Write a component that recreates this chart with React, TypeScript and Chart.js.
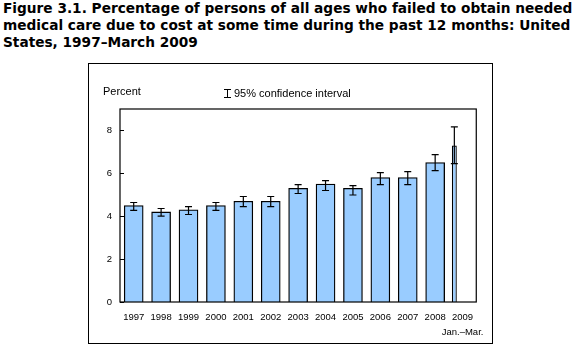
import React, { useEffect, useRef } from "react";
import { Chart, registerables } from "chart.js";

Chart.register(...registerables);

const yearLabels: (string | string[])[] = [
  "1997", "1998", "1999", "2000", "2001", "2002", "2003",
  "2004", "2005", "2006", "2007", "2008", ["2009", "Jan.\u2013Mar."],
];
const fullYearValues: (number | null)[] = [4.5, 4.2, 4.3, 4.5, 4.7, 4.7, 5.3, 5.5, 5.3, 5.8, 5.8, 6.5, null];
const partialYearValues: (number | null)[] = [null, null, null, null, null, null, null, null, null, null, null, null, 7.3];
const ciLower: number[] = [4.27, 4.0, 4.08, 4.27, 4.45, 4.45, 5.06, 5.2, 4.99, 5.47, 5.47, 6.13, 6.45];
const ciUpper: number[] = [4.64, 4.36, 4.45, 4.64, 4.92, 4.92, 5.47, 5.66, 5.43, 6.03, 6.08, 6.87, 8.17];
const yTicks: number[] = [0, 2, 4, 6, 8];

const TICK_FONT = { family: "'Liberation Sans', Arial, sans-serif", size: 9.5 };

const plotBoxPlugin = {
  id: "plotBox",
  afterDatasetsDraw(chart: any) {
    const { ctx, chartArea, scales } = chart;
    ctx.save();
    ctx.strokeStyle = "#000";
    ctx.lineWidth = 1.2;
    for (let i = 0; i < ciLower.length; i++) {
      let x: number | null = null;
      for (let d = 0; d < chart.data.datasets.length; d++) {
        const v = chart.data.datasets[d].data[i];
        if (v !== null && v !== undefined) {
          const el = chart.getDatasetMeta(d).data[i];
          if (el) x = el.x;
        }
      }
      if (x === null) continue;
      const yl = scales.y.getPixelForValue(ciLower[i]);
      const yu = scales.y.getPixelForValue(ciUpper[i]);
      const cap = 3.5;
      ctx.beginPath();
      ctx.moveTo(x, yl);
      ctx.lineTo(x, yu);
      ctx.moveTo(x - cap, yu);
      ctx.lineTo(x + cap, yu);
      ctx.moveTo(x - cap, yl);
      ctx.lineTo(x + cap, yl);
      ctx.stroke();
    }
    ctx.lineWidth = 1.2;
    ctx.strokeRect(chartArea.left, chartArea.top, chartArea.right - chartArea.left, chartArea.bottom - chartArea.top);
    ctx.beginPath();
    for (const t of yTicks) {
      const y = Math.round(scales.y.getPixelForValue(t)) + 0.5;
      ctx.moveTo(chartArea.left, y);
      ctx.lineTo(chartArea.left + 4, y);
    }
    ctx.stroke();
    ctx.restore();
  },
};

function BarChart() {
  const ref = useRef<HTMLCanvasElement | null>(null);
  useEffect(() => {
    if (!ref.current) return;
    const chart = new Chart(ref.current, {
      type: "bar",
      data: {
        labels: yearLabels,
        datasets: [
          {
            label: "Jan.–Mar. 2009",
            data: partialYearValues,
            backgroundColor: "#99ccff",
            borderColor: "#000",
            borderWidth: 1.3,
            grouped: true,
            categoryPercentage: 1.2,
            barPercentage: 0.3,
          } as any,
          {
            label: "spacer",
            data: partialYearValues.map(() => null),
            grouped: true,
            categoryPercentage: 1.2,
            barPercentage: 0.3,
          } as any,
          {
            label: "Percent",
            data: fullYearValues,
            backgroundColor: "#99ccff",
            borderColor: "#000",
            borderWidth: 1.3,
            grouped: false,
            barThickness: 19,
          } as any,
        ],
      },
      options: {
        responsive: false,
        maintainAspectRatio: false,
        animation: false,
        layout: { padding: { top: 45, right: 15, bottom: 0, left: 0 } },
        plugins: { legend: { display: false }, tooltip: { enabled: false }, title: { display: false } },
        scales: {
          x: {
            type: "category",
            offset: true,
            grid: { display: false, drawTicks: false },
            border: { display: false },
            ticks: { color: "#000", font: { ...TICK_FONT, lineHeight: 1.55 }, padding: 8, maxRotation: 0, autoSkip: false },
            afterFit(scale: any) { scale.height = 41; },
          },
          y: {
            min: 0,
            max: 9,
            grid: { display: false, drawTicks: false },
            border: { display: false },
            ticks: { stepSize: 2, includeBounds: false, color: "#000", font: TICK_FONT, padding: 8 },
            afterFit(scale: any) { scale.width = 31; },
          },
        },
      } as any,
      plugins: [plotBoxPlugin],
    });
    return () => chart.destroy();
  }, []);
  return (
    <canvas ref={ref} width={403} height={279} style={{ position: "absolute", left: 89, top: 64, width: 403, height: 279 }} />
  );
}

export default function App() {
  const label = { fontFamily: "'Liberation Sans', Arial, sans-serif", fontSize: 11, color: "#000", position: "absolute" as const, whiteSpace: "nowrap" as const, lineHeight: "13px" };
  return (
    <div style={{ position: "absolute", left: 0, top: 0, width: 577, height: 352, background: "#fff", overflow: "hidden" }}>
      <div style={{ position: "absolute", left: 3, top: 0, fontFamily: "'DejaVu Sans', Verdana, sans-serif", fontWeight: "bold", fontSize: 13.7, lineHeight: "17px", color: "#000", whiteSpace: "nowrap" }}>
        Figure 3.1. Percentage of persons of all ages who failed to obtain needed<br />
        medical care due to cost at some time during the past 12 months: United<br />
        States, 1997{"\u2013"}March 2009
      </div>
      <div style={{ position: "absolute", left: 88, top: 63, width: 405, height: 281, border: "1px solid #000", boxSizing: "border-box" }} />
      <BarChart />
      <div style={{ ...label, left: 103, top: 85 }}>Percent</div>
      <div style={{ position: "absolute", left: 227, top: 89, width: 1, height: 9, background: "#000" }} />
      <div style={{ position: "absolute", left: 224, top: 89, width: 7, height: 1, background: "#000" }} />
      <div style={{ position: "absolute", left: 224, top: 97, width: 7, height: 1, background: "#000" }} />
      <div style={{ ...label, left: 234, top: 87 }}>95% confidence interval</div>
    </div>
  );
}
